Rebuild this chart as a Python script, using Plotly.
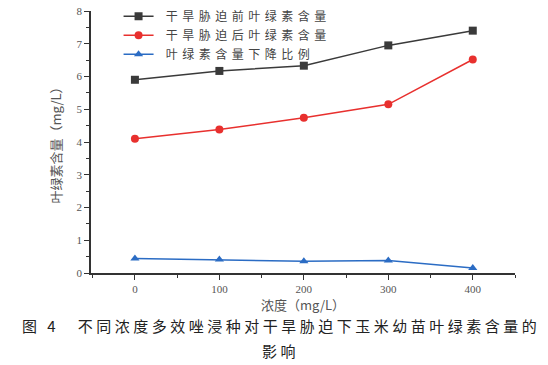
import plotly.graph_objects as go

conc = [0, 100, 200, 300, 400]
before = [5.9, 6.17, 6.33, 6.95, 7.4]
after = [4.1, 4.38, 4.74, 5.15, 6.52]
ratio = [0.44, 0.41, 0.36, 0.38, 0.15]

names = ["干旱胁迫前叶绿素含量", "干旱胁迫后叶绿素含量", "叶绿素含量下降比例"]
colors = ["#3a3a3a", "#e8302e", "#2b6cc4"]
symbols = ["square", "circle", "triangle-up"]
series = [before, after, ratio]

CJK = "Noto Sans CJK SC, Noto Sans, sans-serif"
SERIF = "Liberation Serif, DejaVu Serif, serif"

fig = go.Figure()
for nm, ys, c, s in zip(names, series, colors, symbols):
    fig.add_trace(go.Scatter(
        x=conc, y=ys, mode="lines+markers",
        name='<span style="letter-spacing:4.5px"> ' + nm + '</span>',
        line=dict(color=c, width=1.5),
        marker=dict(color=c, symbol=s, size=8),
    ))

fig.update_layout(
    width=548, height=365,
    margin=dict(l=91, r=33, t=11, b=92, autoexpand=False),
    paper_bgcolor="white", plot_bgcolor="white",
    showlegend=True,
    legend=dict(x=0.065, y=1.035, xanchor="left", yanchor="top",
                font=dict(family=CJK, size=12, color="#444"),
                bgcolor="rgba(0,0,0,0)", tracegroupgap=0, itemwidth=30),
    xaxis=dict(range=[-52, 450], tickvals=conc, ticktext=[str(v) for v in conc],
               automargin=False,
               showgrid=False, zeroline=False, showline=True, linecolor="#333", linewidth=1.5,
               ticks="outside", ticklen=5, tickcolor="#333",
               minor=dict(ticks="outside", ticklen=3, dtick=50, tick0=0, tickcolor="#333"),
               tickfont=dict(family=SERIF, size=11, color="#555"),
               title=dict(text="浓度（mg/L）", font=dict(family=CJK, size=13, color="#555"), standoff=2)),
    yaxis=dict(range=[0, 8], dtick=1,
               automargin=False,
               showgrid=False, zeroline=False, showline=True, linecolor="#333", linewidth=1.5,
               ticks="outside", ticklen=5, tickcolor="#333",
               minor=dict(ticks="outside", ticklen=3, dtick=0.5, tickcolor="#333"),
               tickfont=dict(family=SERIF, size=11, color="#555"),
               title=dict(text="叶绿素含量（mg/L）", font=dict(family=CJK, size=13, color="#555"), standoff=12)),
)

fig.add_annotation(xref="paper", yref="paper", x=-0.167, y=-0.202, xanchor="left", yanchor="middle",
                   showarrow=False,
                   text='<span style="letter-spacing:3.5px">图 4　不同浓度多效唑浸种对干旱胁迫下玉米幼苗叶绿素含量的</span>',
                   font=dict(family=CJK, size=15, color="#222"))
fig.add_annotation(xref="paper", yref="paper", x=0.448, y=-0.294, xanchor="center", yanchor="middle",
                   showarrow=False,
                   text='<span style="letter-spacing:3.5px">影响</span>',
                   font=dict(family=CJK, size=15, color="#222"))

fig.write_html("out.html", config={"displayModeBar": False},
               post_script="document.body.style.margin='0';document.body.style.padding='0';")
